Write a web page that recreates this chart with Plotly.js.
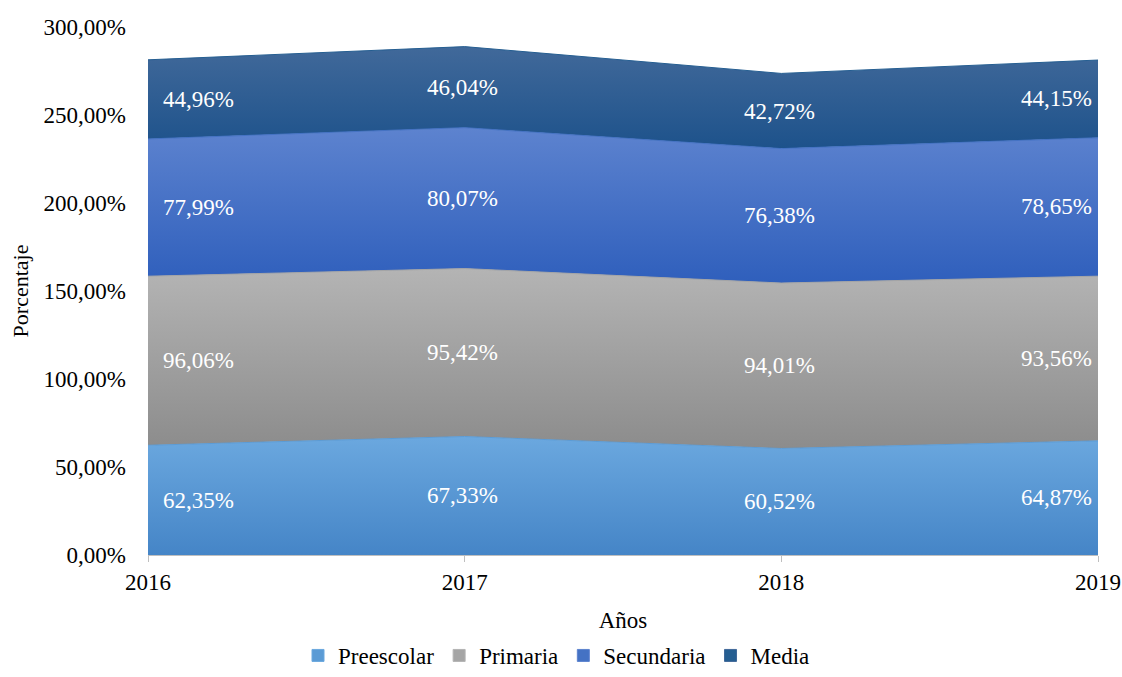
<!DOCTYPE html>
<html>
<head>
<meta charset="utf-8">
<script src="https://cdn.plot.ly/plotly-3.0.1.min.js"></script>
<style>html,body{margin:0;padding:0;background:#fff;}#chart{width:1122px;height:677px;}</style>
</head>
<body>
<div id="chart"></div>
<script>
const years = [2016, 2017, 2018, 2019];
const seriesNames = ["Preescolar", "Primaria", "Secundaria", "Media"];
const preescolar = [62.35, 67.33, 60.52, 64.87];
const primaria = [96.06, 95.42, 94.01, 93.56];
const secundaria = [77.99, 80.07, 76.38, 78.65];
const media = [44.96, 46.04, 42.72, 44.15];
const yTicks = [0, 50, 100, 150, 200, 250, 300];

const FONT = '"Liberation Serif", "Times New Roman", Times, serif';
const seriesValues = [preescolar, primaria, secundaria, media];
const gradTop = ["#6ba8df", "#b4b4b4", "#5d83cf", "#41699a"];
const gradBottom = ["#4585c7", "#8c8c8c", "#2f5fbc", "#1d528b"];
const lineColors = ["#5b9bd5", "#a5a5a5", "#4472c4", "#255e91"];
const legendColors = ["#5b9bd5", "#a5a5a5", "#4472c4", "#255e91"];

const fmt = v => v.toFixed(2).replace('.', ',') + '%';

const traces = [];
const legendTraces = [];
const annotations = [];
const bases = years.map(() => 0);
seriesValues.forEach((vals, i) => {
  const lows = bases.slice();
  const highs = bases.map((b, k) => b + vals[k]);
  traces.push({
    type: 'scatter', mode: 'lines', x: years, y: vals, name: seriesNames[i],
    stackgroup: 'one', showlegend: false,
    line: {color: lineColors[i], width: 1},
    fillcolor: legendColors[i],
    fillgradient: {type: 'vertical', start: Math.min(...lows), stop: Math.max(...highs),
      colorscale: [[0, gradBottom[i]], [1, gradTop[i]]]},
    hoverinfo: 'skip'
  });
  legendTraces.push({
    type: 'scatter', mode: 'markers', x: [null], y: [null], name: seriesNames[i],
    marker: {symbol: 'square', size: 12, color: legendColors[i], line: {width: 1, color: gradTop[i]}},
    showlegend: true, hoverinfo: 'skip'
  });
  years.forEach((yr, k) => {
    const first = k === 0, last = k === years.length - 1;
    annotations.push({
      x: yr, y: lows[k] + vals[k] / 2, xref: 'x', yref: 'y',
      text: fmt(vals[k]), showarrow: false,
      xanchor: first ? 'left' : (last ? 'right' : 'center'),
      xshift: first ? 13 : (last ? -4 : -2),
      font: {family: FONT, size: 23, color: '#ffffff'}
    });
  });
  for (let k = 0; k < bases.length; k++) bases[k] = highs[k];
});

const layout = {
  width: 1122, height: 677,
  margin: {l: 148, r: 24, t: 27, b: 122, autoexpand: false},
  paper_bgcolor: '#ffffff', plot_bgcolor: '#ffffff',
  font: {family: FONT, size: 23, color: '#000000'},
  separators: ',.',
  showlegend: true,
  legend: {orientation: 'h', x: 0.43, xanchor: 'center', yref: 'container', y: -0.009, yanchor: 'bottom',
    font: {family: FONT, size: 23, color: '#000'}, itemwidth: 30, traceorder: 'normal'},
  annotations: annotations,
  xaxis: {
    range: [2016, 2019], tickvals: years, ticktext: years.map(String),
    showgrid: false, zeroline: false, showline: true, linecolor: '#bfbfbf', linewidth: 1,
    ticks: 'outside', ticklen: 6, tickcolor: '#bfbfbf',
    tickfont: {family: FONT, size: 23},
    title: {text: 'Años', font: {family: FONT, size: 23}, standoff: 18}
  },
  yaxis: {
    range: [0, 300], tickvals: yTicks, ticktext: yTicks.map(v => v.toFixed(2).replace('.', ',') + '%'),
    showgrid: false, zeroline: false, showline: false, ticks: '',
    ticklabelstandoff: 21,
    tickfont: {family: FONT, size: 23},
    title: {text: 'Porcentaje', font: {family: FONT, size: 22}, standoff: 8}
  }
};

Plotly.newPlot('chart', traces.concat(legendTraces), layout, {displayModeBar: false, staticPlot: true});
</script>
</body>
</html>
